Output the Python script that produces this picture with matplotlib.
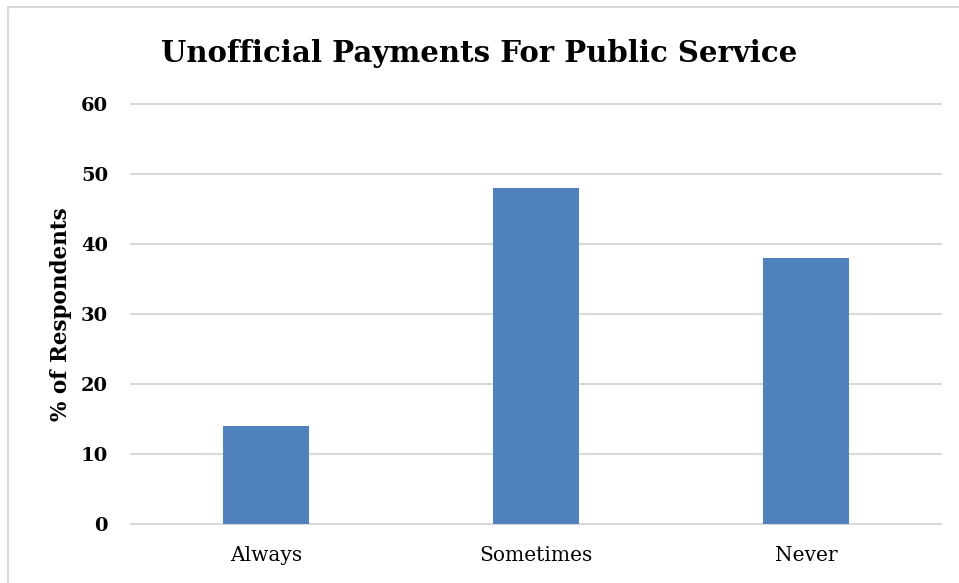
import matplotlib
matplotlib.use("Agg")
import matplotlib.pyplot as plt
from matplotlib.patches import Rectangle

categories = ["Always", "Sometimes", "Never"]
values = [14, 48, 38]
yticks = [0, 10, 20, 30, 40, 50, 60]

W, H = 959, 583
fig = plt.figure(figsize=(W / 100, H / 100), dpi=100)
fig.patch.set_facecolor("white")

# outer chart frame
fig.patches.append(Rectangle((8 / W, -0.05), 1.2, 1 - 7 / H + 0.05,
                             transform=fig.transFigure, fill=False,
                             edgecolor="#D9D9D9", linewidth=1.5))

ax = fig.add_axes([131 / W, 1 - 524 / H, (941 - 131) / W, (524 - 104) / H])
x = range(len(categories))
ax.bar(x, values, width=0.315, color="#4F81BD", zorder=3)

ax.set_xlim(-0.5, len(categories) - 0.5)
ax.set_ylim(0, 60)
ax.set_yticks(yticks)
ax.set_yticklabels([str(t) for t in yticks], fontfamily="DejaVu Serif",
                   fontweight="bold", fontsize=14)
ax.set_xticks(list(x))
ax.set_xticklabels(categories, fontfamily="DejaVu Serif", fontsize=14.5)
ax.tick_params(axis="both", length=0)
ax.tick_params(axis="y", pad=16.5)
ax.tick_params(axis="x", pad=16)

ax.grid(axis="y", color="#D9D9D9", linewidth=1.5, zorder=0)
for gl in ax.get_ygridlines():
    gl.set_clip_on(False)
for s in ax.spines.values():
    s.set_visible(False)

ax.set_ylabel("% of Respondents", fontfamily="DejaVu Serif",
              fontweight="bold", fontsize=15.5, labelpad=6)

fig.text(0.5, 1 - 53 / H, "Unofficial Payments For Public Service",
         ha="center", va="center", fontfamily="DejaVu Serif",
         fontweight="bold", fontsize=21)

fig.savefig("out.png", dpi=100)
